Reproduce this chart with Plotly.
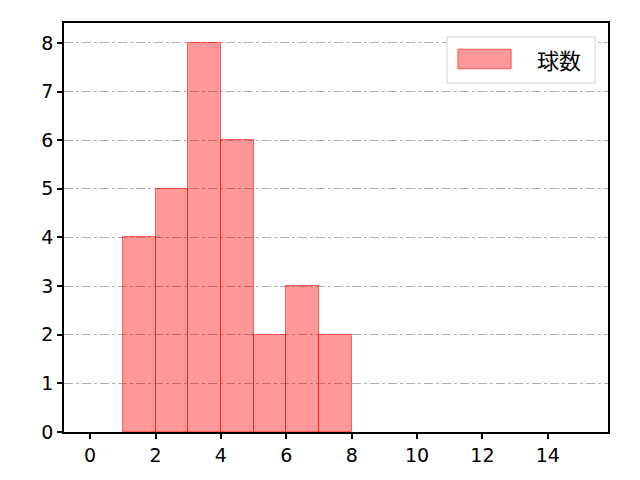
import plotly.graph_objects as go

# histogram bins (left edges) and counts
bin_left = [1, 2, 3, 4, 5, 6, 7]
counts = [4, 5, 8, 6, 2, 3, 2]
x_ticks = [0, 2, 4, 6, 8, 10, 12, 14]
y_ticks = [0, 1, 2, 3, 4, 5, 6, 7, 8]
series_name = "球数"

centers = [b + 0.5 for b in bin_left]
bar_fill = "rgba(255,0,0,0.4)"
bar_edge = "rgba(255,0,0,0.55)"

fig = go.Figure()
fig.add_trace(go.Bar(
    x=centers, y=counts, width=1.0, name=series_name,
    marker=dict(color=bar_fill, line=dict(color=bar_edge, width=1)),
    showlegend=False,
))

axis_common = dict(
    showline=True, linecolor="black", linewidth=1.5, mirror=True,
    ticks="outside", ticklen=5, tickwidth=1.5, tickcolor="black",
    tickfont=dict(family="DejaVu Sans", size=19, color="black"), zeroline=False,
)

# legend drawn by hand so the swatch is a wide matplotlib-style patch
fig.add_shape(type="rect", xref="paper", yref="paper",
              x0=0.704, x1=0.976, y0=0.853, y1=0.966,
              line=dict(color="#d0d0d0", width=1), fillcolor="white")
fig.add_shape(type="rect", xref="paper", yref="paper",
              x0=0.724, x1=0.822, y0=0.888, y1=0.936,
              line=dict(color=bar_edge, width=1), fillcolor=bar_fill)
fig.add_annotation(xref="paper", yref="paper", x=0.910, y=0.912,
                   xanchor="center", yanchor="middle",
                   text=series_name, showarrow=False,
                   font=dict(family="Noto Sans CJK JP", size=22, color="black"))

# page body has an 8px margin, so the figure is sized and padded to suit
fig.update_layout(
    width=632, height=472,
    margin=dict(l=56, r=32, t=15, b=48),
    paper_bgcolor="white", plot_bgcolor="white",
    font=dict(family="Noto Sans CJK JP, DejaVu Sans", color="black"),
    bargap=0,
    xaxis=dict(range=[-0.8, 15.84], tickvals=x_ticks, showgrid=False, **axis_common),
    yaxis=dict(range=[0, 8.41], tickvals=y_ticks, showgrid=True,
               gridcolor="#b0b0b0", griddash="dashdot", gridwidth=1, **axis_common),
)

fig.write_html("out.html")
